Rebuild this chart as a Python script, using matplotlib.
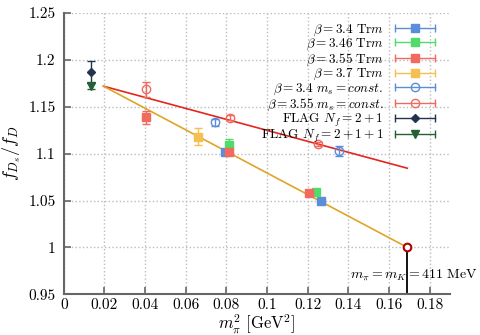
import numpy as np
import matplotlib
matplotlib.use("Agg")
import matplotlib.pyplot as plt
from matplotlib.lines import Line2D
from matplotlib.legend_handler import HandlerBase

plt.rcParams['font.family'] = 'serif'
plt.rcParams['font.serif'] = ['cmr10', 'DejaVu Serif']
plt.rcParams['mathtext.fontset'] = 'cm'
plt.rcParams['axes.formatter.use_mathtext'] = True

# data
x_trm34 = [0.0792, 0.1267]
y_trm34 = [1.1015, 1.0493]
e_trm34 = [0.002, 0.002]

x_trm346 = [0.0812, 0.124]
y_trm346 = [1.109, 1.0596]
e_trm346 = [0.007, 0.002]

x_trm355 = [0.0403, 0.0812, 0.1204]
y_trm355 = [1.139, 1.1015, 1.058]
e_trm355 = [0.007, 0.002, 0.002]

x_trm37 = [0.066]
y_trm37 = [1.118]
e_trm37 = [0.009]

x_c34 = [0.0746, 0.1352]
y_c34 = [1.1335, 1.103]
e_c34 = [0.004, 0.005]

x_c355 = [0.0403, 0.082, 0.125]
y_c355 = [1.1687, 1.1385, 1.110]
e_c355 = [0.008, 0.003, 0.002]

x_flag = [0.0136]
y_flag21 = [1.187]
e_flag21 = [0.012]
y_flag211 = [1.172]
e_flag211 = [0.003]

x_fit = [0.0195, 0.169]
y_fit_const = [1.172, 1.0845]
y_fit_trm = [1.172, 1.0]

x_sym = [0.169]
y_sym = [1.0]

blue = '#5b8ddb'
green = '#4fdc6a'
red = '#f26a5e'
orange = '#f4c050'
navy = '#23344f'
dgreen = '#246034'

series = [
    (x_trm34, y_trm34, e_trm34, blue, 's', True, r'$\beta = 3.4\ \mathrm{Tr}m$'),
    (x_trm346, y_trm346, e_trm346, green, 's', True, r'$\beta = 3.46\ \mathrm{Tr}m$'),
    (x_trm355, y_trm355, e_trm355, red, 's', True, r'$\beta = 3.55\ \mathrm{Tr}m$'),
    (x_trm37, y_trm37, e_trm37, orange, 's', True, r'$\beta = 3.7\ \mathrm{Tr}m$'),
    (x_c34, y_c34, e_c34, blue, 'o', False, r'$\beta = 3.4\ m_s = const.$'),
    (x_c355, y_c355, e_c355, red, 'o', False, r'$\beta = 3.55\ m_s = const.$'),
    (x_flag, y_flag21, e_flag21, navy, 'D', True, r'FLAG $N_f = 2+1$'),
    (x_flag, y_flag211, e_flag211, dgreen, 'v', True, r'FLAG $N_f = 2+1+1$'),
]


class HandlerHBar(HandlerBase):
    def create_artists(self, legend, orig, xdescent, ydescent, width, height, fontsize, trans):
        c = orig.get_color()
        y = height / 2 - ydescent
        x0, x1 = -xdescent, width - xdescent
        bar = Line2D([x0, x1], [y, y], color=c, lw=1.0, transform=trans)
        caps = Line2D([x0, x1], [y, y], ls='', marker='|', ms=6, mew=1.0, color=c, transform=trans)
        m = Line2D([(x0 + x1) / 2], [y], ls='', marker=orig.get_marker(),
                   ms=orig.get_markersize(), mfc=orig.get_markerfacecolor(),
                   mec=c, mew=orig.get_markeredgewidth(), transform=trans)
        return [bar, caps, m]


fig = plt.figure(figsize=(4.8, 3.35), dpi=100)
ax = fig.add_axes([0.133, 0.1215, 0.8045, 0.8395])

ax.plot(x_fit, y_fit_const, color='#e3261e', lw=1.2, zorder=2)
ax.plot(x_fit, y_fit_trm, color='#e0a426', lw=1.2, zorder=2)
ax.plot([x_sym[0], x_sym[0]], [0.95, y_sym[0]], color='black', lw=1.3, zorder=2)
ax.plot(x_sym, y_sym, ls='', marker='o', ms=5.5, mfc='white', mec='#b00000', mew=1.5, zorder=5)

handles = []
labels = []
for xs, ys, es, c, mk, filled, lab in series:
    ms = 4.5 if mk == 'D' else 6
    ax.errorbar(xs, ys, yerr=es, fmt=mk, color=c, ms=ms,
                mfc=c if filled else 'none', mec=c, mew=1.0,
                elinewidth=1.0, capsize=3, capthick=1.0, zorder=4)
    h = Line2D([], [], color=c, marker=mk, ms=ms, mfc=c if filled else 'none', mec=c, mew=1.0)
    handles.append(h)
    labels.append(lab)

ax.text(0.172, 0.9707, r'$m_\pi = m_K = 411$ MeV', ha='center', va='center', fontsize=10)

ax.set_xlim(0, 0.19)
ax.set_ylim(0.95, 1.25)
ax.set_xticks(np.arange(0, 0.181, 0.02))
ax.set_xticklabels(['0', '0.02', '0.04', '0.06', '0.08', '0.1', '0.12', '0.14', '0.16', '0.18'])
ax.set_yticks([0.95, 1.0, 1.05, 1.1, 1.15, 1.2, 1.25])
ax.set_yticklabels(['0.95', '1', '1.05', '1.1', '1.15', '1.2', '1.25'])
ax.tick_params(direction='in', length=5, width=1.2, color='#666666', labelsize=11)
ax.tick_params(axis='x', pad=3)
ax.tick_params(axis='y', pad=6)
ax.grid(True, ls=':', color='#bbbbbb', lw=1.0)
ax.set_axisbelow(True)
for s in ['top', 'right']:
    ax.spines[s].set_visible(False)
for s in ['left', 'bottom']:
    ax.spines[s].set_color('#666666')
    ax.spines[s].set_linewidth(1.5)

ax.set_xlabel(r'$m_\pi^2\ [\mathrm{GeV}^2]$', fontsize=12, labelpad=0)
ax.set_ylabel(r'$f_{D_s}/f_D$', fontsize=13, labelpad=4)

ax.legend(handles, labels, loc='upper right', bbox_to_anchor=(0.985, 1.0),
          frameon=False, markerfirst=False, fontsize=9.5, labelspacing=-0.06,
          handlelength=3.0, handletextpad=0.9, borderpad=0.2,
          handler_map={Line2D: HandlerHBar()})

fig.savefig('out.png', dpi=100)
